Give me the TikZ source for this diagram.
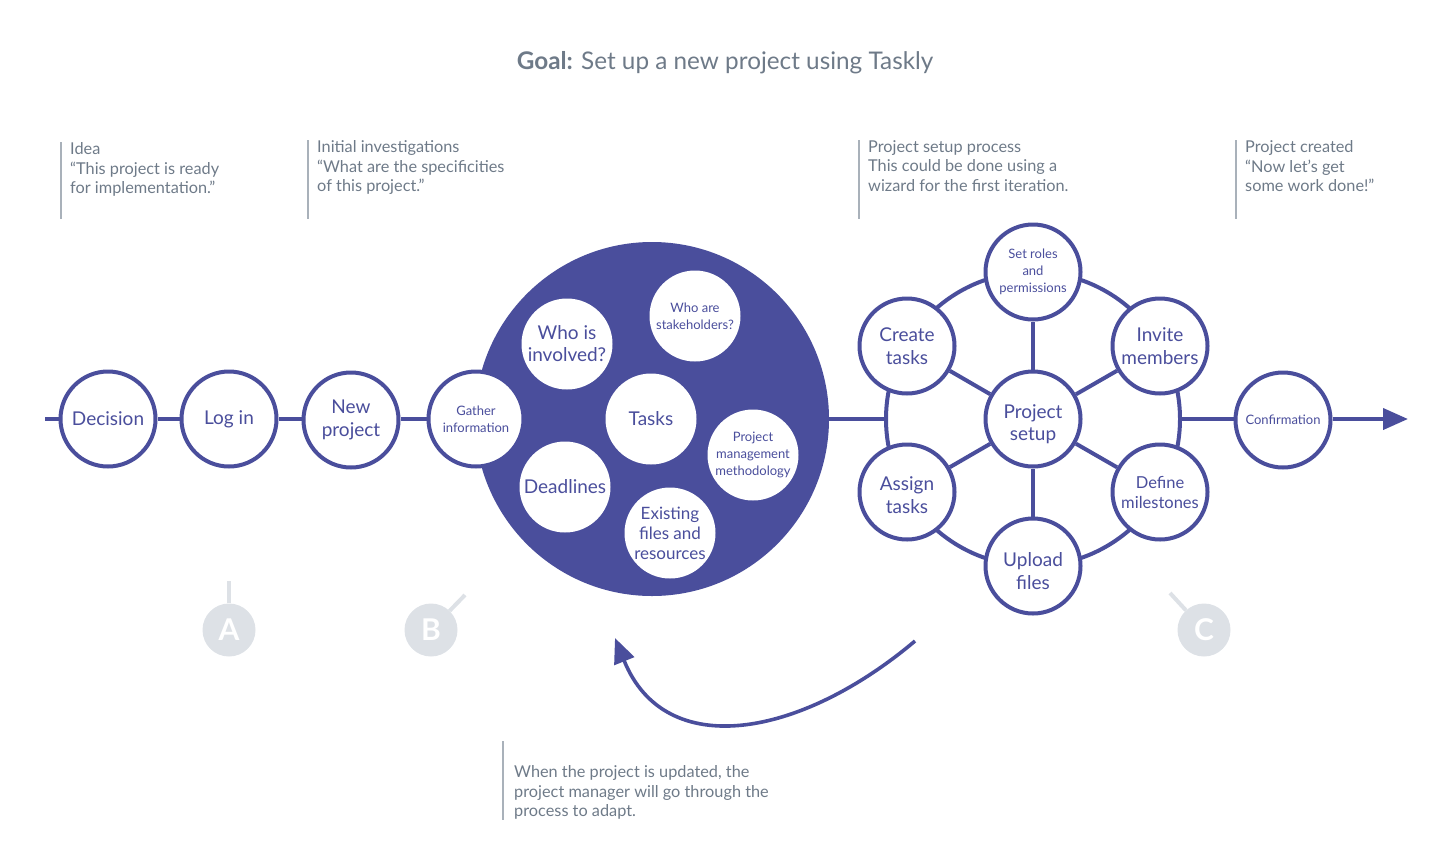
\documentclass[tikz,border=0pt]{standalone}
\usepackage{fontspec}
\setmainfont{Lato}
\usetikzlibrary{arrows.meta,backgrounds}
\definecolor{ink}{HTML}{4A4E9C}
\definecolor{notegray}{HTML}{6E7A88}
\definecolor{rulegray}{HTML}{A9B1BA}
\definecolor{badgegray}{HTML}{DDE1E6}
\newcommand\setfs[2]{\fontsize{#1}{#2}\selectfont}
% invisible strut that lifts the top of a label block
\newcommand\topstrut[1]{\rule{0pt}{#1}}
\begin{document}
\begin{tikzpicture}[x=1pt,y=-1pt,
  stage/.style={circle, draw=ink, line width=4pt, fill=white, minimum size=95pt,
    inner sep=0pt, align=center, text=ink, font=\setfs{19}{22.5}},
  smalltext/.style={font=\setfs{13}{17}},
  midtext/.style={font=\setfs{17}{20}},
  question/.style={circle, fill=white, minimum size=91pt, inner sep=0pt,
    align=center, text=ink, font=\setfs{19}{22}},
  pool/.style={circle, fill=ink, minimum size=354pt, inner sep=0pt},
  notetext/.style={anchor=north west, inner sep=0pt, align=left, text=notegray,
    font=\setfs{16.3}{19.8}},
  rulebar/.style={draw=rulegray, line width=1.2pt},
  badge/.style={circle, fill=badgegray, minimum size=53pt, inner sep=0pt,
    text=white, font=\setfs{30}{30}\bfseries},
  stalk/.style={draw=badgegray, line width=4pt},
  flow/.style={draw=ink, line width=4pt},
  loopflow/.style={draw=ink, line width=3.6pt}
]
\useasboundingbox (0,0) rectangle (1450,865);

% title
\node[text=notegray, font=\setfs{24.3}{28}] (title) at (725,63)
  {\textbf{Goal:} Set up a new project using Taskly};

% phase notes with their side rules
\draw[rulebar] (61,142) -- (61,219);
\node[notetext] (noteA) at (70,142)
  {Idea\\“This project is ready\\for implementation.”};
\draw[rulebar] (308,140) -- (308,219);
\node[notetext] (noteB) at (317,140)
  {Initial investigations\\“What are the specificities\\of this project.”};
\draw[rulebar] (859,140) -- (859,219);
\node[notetext] (noteC) at (868,140)
  {Project setup process\\This could be done using a\\wizard for the first iteration.};
\draw[rulebar] (1236,140) -- (1236,219);
\node[notetext] (noteD) at (1245,140)
  {Project created\\“Now let's get\\some work done!”};
\draw[rulebar] (503,741) -- (503,820);
\node[notetext] (noteE) at (514,765)
  {When the project is updated, the\\project manager will go through the\\process to adapt.};

% first steps
\coordinate (start) at (45,419);
\node[stage] (decision) at (108,419) {Decision};
\node[stage] (login) at (229,419) {Log in};
\node[stage] (newproj) at (351,420) {New\\project};

% information gathering pool
\node[pool] (info) at (652,419) {};
\node[stage, smalltext] (gather) at (476,419) {Gather\\information};
\node[question] (who) at (567,344) {Who is\\involved?};
\node[question, smalltext] (stake) at (695,316) {Who are\\stakeholders?};
\node[question] (tasks) at (651,419) {Tasks};
\node[question, smalltext] (method) at (753,455) {Project\\management\\methodology};
\node[question] (deadlines) at (565,487) {Deadlines};
\node[question, midtext] (existing) at (670,533) {Existing\\files and\\resources};

% project setup wheel
\node[stage] (setup) at (1033,419) {\topstrut{24pt}Project\\setup};
\node[stage, smalltext] (roles) at (1033,272) {Set roles\\and\\permissions};
\node[stage] (create) at (907,346) {Create\\tasks};
\node[stage] (invite) at (1160,346) {Invite\\members};
\node[stage] (assign) at (907,492) {\topstrut{20pt}Assign\\tasks};
\node[stage, font=\setfs{16.5}{20}] (miles) at (1160,492) {Define\\milestones};
\node[stage] (upload) at (1033,566) {\topstrut{24pt}Upload\\files};
\begin{scope}[on background layer]
  \draw[flow] (setup.center) circle (147);
\end{scope}
\coordinate (wheelW) at (886,419);
\coordinate (wheelE) at (1180,419);
\foreach \n in {roles,create,invite,assign,miles,upload}
  \draw[flow] (setup) -- (\n);

% final step
\node[stage, smalltext] (confirm) at (1283,420) {Confirmation};
\coordinate (finish) at (1408,419);

% main line
\draw[flow] (start) -- (decision);
\draw[flow] (decision) -- (login);
\draw[flow] (login) -- (newproj.west |- login.east);
\draw[flow] (newproj.east |- login.east) -- (gather);
\draw[flow] (info.east) -- (wheelW);
\draw[flow] (wheelE) -- (confirm.west |- wheelE);
\draw[flow, -{Triangle[length=25pt,width=21pt]}] (confirm.east |- finish) -- (finish);

% loop back for updates
\coordinate (loopS) at (915,641);
\coordinate (loopE) at (615,638);
\draw[loopflow, -{Triangle[length=25pt,width=21pt]}]
  (loopS) .. controls (800,738) and (665,762) .. (loopE);

% phase badges
\node[badge] (badgeA) at (229,630) {A};
\coordinate (tipA) at (229,581);
\draw[stalk] (badgeA) -- (tipA);
\node[badge] (badgeB) at (431,630) {B};
\coordinate (tipB) at (465,595);
\draw[stalk] (badgeB) -- (tipB);
\node[badge] (badgeC) at (1204,630) {C};
\coordinate (tipC) at (1170,593);
\draw[stalk] (badgeC) -- (tipC);
\end{tikzpicture}
\end{document}
